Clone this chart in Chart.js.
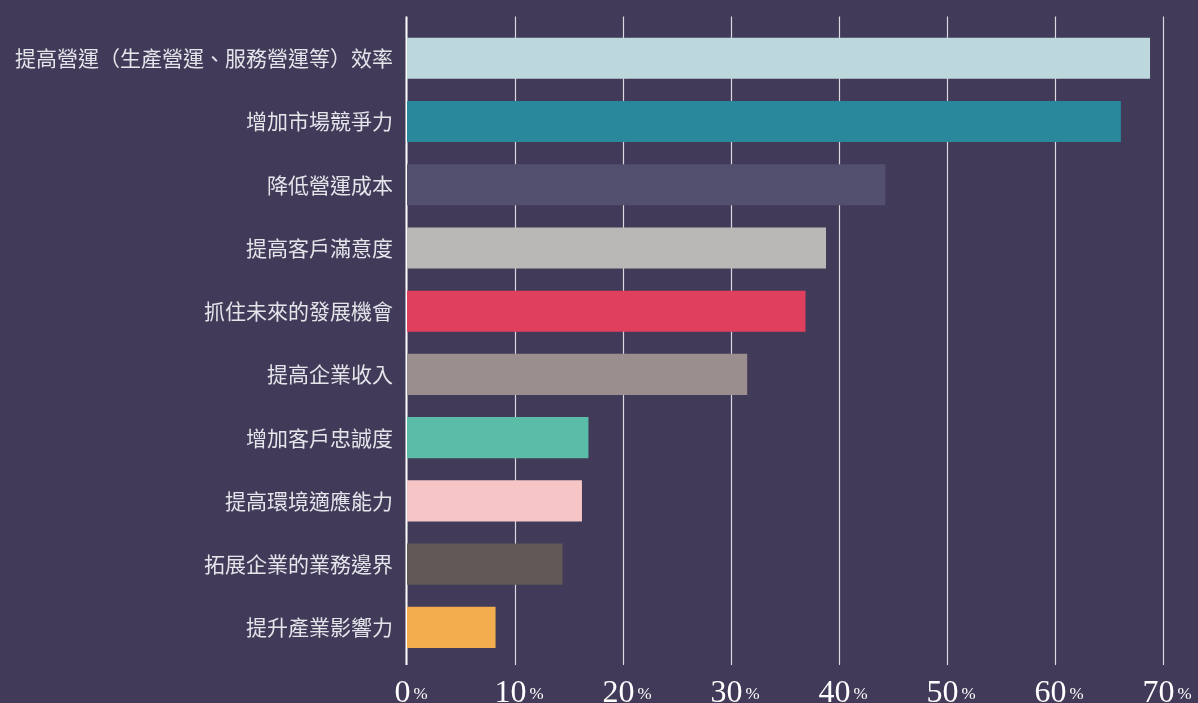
<!DOCTYPE html>
<html>
<head>
<meta charset="utf-8">
<script src="https://cdn.jsdelivr.net/npm/chart.js@4/dist/chart.umd.min.js"></script>
<style>
  html, body { margin: 0; padding: 0; background: #413a58; }
  #wrap { width: 1198px; height: 703px; }
</style>
</head>
<body>
<div id="wrap"><canvas id="c"></canvas></div>
<script>
const categories = [
  '提高營運（生產營運、服務營運等）效率',
  '增加市場競爭力',
  '降低營運成本',
  '提高客戶滿意度',
  '抓住未來的發展機會',
  '提高企業收入',
  '增加客戶忠誠度',
  '提高環境適應能力',
  '拓展企業的業務邊界',
  '提升產業影響力'
];
const shares = [68.8, 66.1, 44.3, 38.8, 36.9, 31.5, 16.8, 16.2, 14.4, 8.2];
const barColors = [
  '#bcd8dc', '#2a889c', '#534f6e', '#bab8b6', '#e0405e',
  '#9b8e8e', '#5bbda8', '#f6c5c5', '#625856', '#f2ae4e'
];
const tickValues = [0, 10, 20, 30, 40, 50, 60, 70];
const tickSuffix = '%';

// vertical grid lines running a little past the plot area on both ends
const gridPlugin = {
  id: 'gridLines',
  beforeDatasetsDraw(chart) {
    const { ctx, chartArea, scales } = chart;
    const x = scales.x;
    ctx.save();
    tickValues.forEach(v => {
      const px = Math.round(x.getPixelForValue(v));
      ctx.beginPath();
      if (v === 0) {
        ctx.strokeStyle = '#ffffff';
        ctx.lineWidth = 2;
        ctx.moveTo(px - 0.5, chartArea.top - 10);
        ctx.lineTo(px - 0.5, chartArea.bottom + 6);
      } else {
        ctx.strokeStyle = 'rgba(235,235,240,0.9)';
        ctx.lineWidth = 1.2;
        ctx.moveTo(px + 0.5, chartArea.top - 10);
        ctx.lineTo(px + 0.5, chartArea.bottom + 6);
      }
      ctx.stroke();
    });
    ctx.restore();
  }
};

// x tick labels: large serif number followed by a small percent sign
const tickLabelPlugin = {
  id: 'tickLabels',
  afterDraw(chart) {
    const { ctx, scales } = chart;
    const x = scales.x;
    ctx.save();
    ctx.fillStyle = '#ffffff';
    ctx.textBaseline = 'alphabetic';
    const bigFont = '32px "Liberation Serif", "DejaVu Serif", serif';
    const smallFont = '17px "Liberation Serif", "DejaVu Serif", serif';
    tickValues.forEach(v => {
      const px = x.getPixelForValue(v);
      const num = String(v);
      ctx.font = bigFont;
      const wNum = ctx.measureText(num).width;
      ctx.font = smallFont;
      const wPct = ctx.measureText(tickSuffix).width;
      const gap = 3;
      const total = wNum + gap + wPct;
      const start = px + 4 - total / 2;
      ctx.font = bigFont;
      ctx.textAlign = 'left';
      ctx.fillText(num, start, 702);
      ctx.font = smallFont;
      ctx.fillText(tickSuffix, start + wNum + gap, 699);
    });
    ctx.restore();
  }
};

new Chart(document.getElementById('c'), {
  type: 'bar',
  data: {
    labels: categories,
    datasets: [{
      data: shares,
      backgroundColor: barColors,
      borderWidth: 0,
      barPercentage: 0.65,
      categoryPercentage: 1.0
    }]
  },
  options: {
    indexAxis: 'y',
    responsive: true,
    maintainAspectRatio: false,
    animation: false,
    layout: { padding: { top: 25, right: 35, left: 0, bottom: 0 } },
    plugins: {
      legend: { display: false },
      tooltip: { enabled: false }
    },
    scales: {
      x: {
        min: 0,
        max: 70,
        ticks: { display: false, stepSize: 10 },
        grid: { display: false },
        border: { display: false },
        afterFit(scale) { scale.height = 44; }
      },
      y: {
        grid: { display: false, drawTicks: false },
        border: { display: false },
        ticks: {
          padding: 14,
          color: '#e4e4ea',
          font: { family: '"Noto Sans CJK TC", "Noto Sans CJK SC", sans-serif', size: 21 }
        },
        afterFit(scale) { scale.width = 407; }
      }
    }
  },
  plugins: [gridPlugin, tickLabelPlugin]
});
</script>
</body>
</html>
